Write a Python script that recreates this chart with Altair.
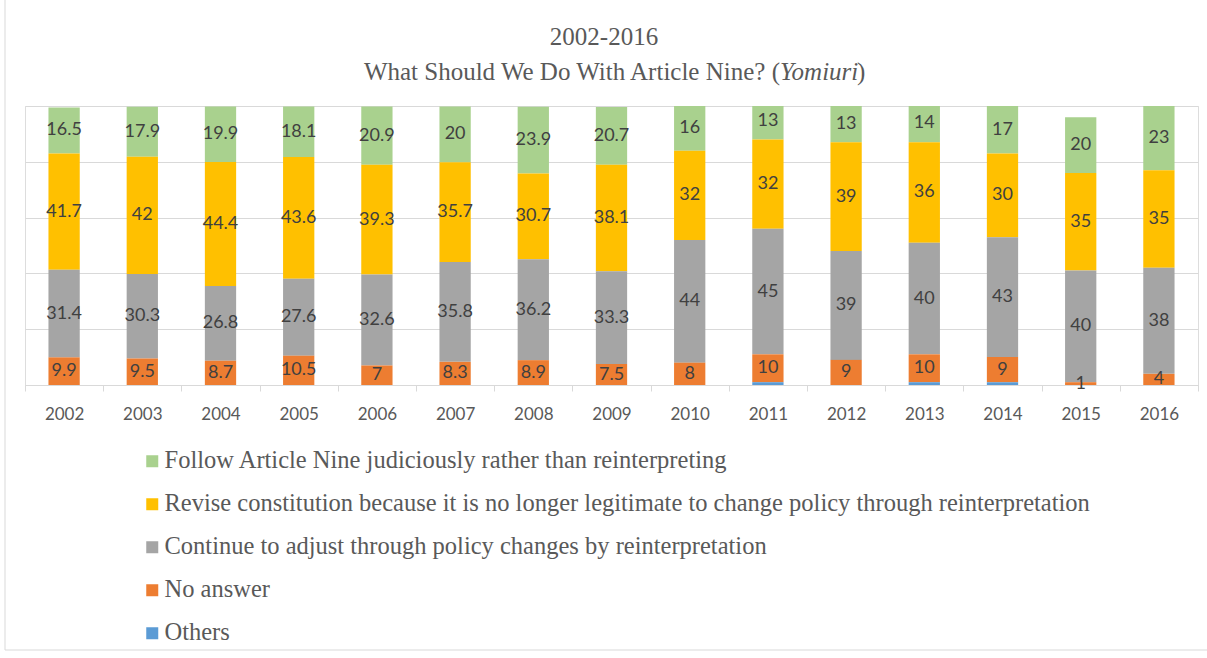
import altair as alt
import pandas as pd

years = [str(y) for y in range(2002, 2017)]
follow   = [16.5, 17.9, 19.9, 18.1, 20.9, 20, 23.9, 20.7, 16, 13, 13, 14, 17, 20, 23]
revise   = [41.7, 42, 44.4, 43.6, 39.3, 35.7, 30.7, 38.1, 32, 32, 39, 36, 30, 35, 35]
cont     = [31.4, 30.3, 26.8, 27.6, 32.6, 35.8, 36.2, 33.3, 44, 45, 39, 40, 43, 40, 38]
noans    = [9.9, 9.5, 8.7, 10.5, 7, 8.3, 8.9, 7.5, 8, 10, 9, 10, 9, 1, 4]
others   = [0, 0, 0, 0, 0, 0, 0, 0, 0, 1, 0, 1, 1, 0, 0]

series_names = [
    "Follow Article Nine judiciously rather than reinterpreting",
    "Revise constitution because it is no longer legitimate to change policy through reinterpretation",
    "Continue to adjust through policy changes by reinterpretation",
    "No answer",
    "Others",
]
series_values = [follow, revise, cont, noans, others]
colors = ["#a9d18e", "#ffc000", "#a5a5a5", "#ed7d31", "#5b9bd5"]

rows = []
for si, (name, vals) in enumerate(zip(series_names, series_values)):
    for yr, v in zip(years, vals):
        rows.append({"year": yr, "series": name, "value": v, "order": 4 - si,
                     "label": str(v)})
df = pd.DataFrame(rows)

W, H = 1173, 279
PL, PT = 25, 106

xenc = alt.X("year:N", sort=years, title=None,
             scale=alt.Scale(paddingInner=0, paddingOuter=0),
             axis=alt.Axis(labelAngle=0, labelFont="Lato", labelFontSize=17,
                           labelColor="#595959", domainColor="#d9d9d9",
                           tickColor="#d9d9d9", tickSize=6, tickBand="extent",
                           labelPadding=15, grid=False))

bars = alt.Chart(df).mark_bar(width=alt.RelativeBandSize(0.4), clip=True).encode(
    x=xenc,
    y=alt.Y("value:Q", stack="zero", title=None,
            scale=alt.Scale(domain=[0, 100], nice=False),
            axis=alt.Axis(values=list(range(0, 101, 10)), labels=False, ticks=False,
                          domain=False, grid=True, gridColor="#d9d9d9")),
    color=alt.Color("series:N", title=None,
                    scale=alt.Scale(domain=series_names, range=colors),
                    legend=alt.Legend(orient="none", legendX=115, legendY=343,
                                      direction="vertical", symbolType="square",
                                      symbolSize=144, symbolStrokeWidth=0,
                                      labelFont="Liberation Serif", labelFontSize=24.5,
                                      labelColor="#595959", labelLimit=2000,
                                      labelOffset=0, rowPadding=18, padding=0)),
    order=alt.Order("order:Q", sort="ascending"),
)

labels = alt.Chart(df).transform_window(
    cum="sum(value)", groupby=["year"], sort=[alt.SortField("order", "ascending")],
    frame=[None, 0]
).transform_calculate(
    mid="datum.cum - datum.value / 2"
).transform_filter(
    alt.datum.series != "Others"
).mark_text(font="Lato", fontSize=18, color="#404040", baseline="middle").encode(
    x=alt.X("year:N", sort=years),
    y=alt.Y("mid:Q"),
    text="label:N",
)

tdata = alt.Data(values=[{"a": 1}])
cx = 604 - PL
t1 = alt.Chart(tdata).mark_text(text="2002-2016", font="Liberation Serif", fontSize=25,
                                color="#595959", align="center", baseline="alphabetic").encode(
    x=alt.value(cx), y=alt.value(45 - PT))
split = 780 - PL
t2a = alt.Chart(tdata).mark_text(text="What Should We Do With Article Nine? (",
                                 font="Liberation Serif", fontSize=25, color="#595959",
                                 align="right", baseline="alphabetic").encode(
    x=alt.value(split), y=alt.value(80 - PT))
t2b = alt.Chart(tdata).mark_text(text="Yomiuri", font="Liberation Serif", fontSize=25,
                                 fontStyle="italic", color="#595959",
                                 align="left", baseline="alphabetic").encode(
    x=alt.value(split), y=alt.value(80 - PT))
t2c = alt.Chart(tdata).mark_text(text=")", font="Liberation Serif", fontSize=25,
                                 color="#595959", align="left", baseline="alphabetic").encode(
    x=alt.value(split + 77), y=alt.value(80 - PT))

border = alt.Chart(tdata).mark_rect(fill=None, stroke="#d9d9d9", strokeWidth=1).encode(
    x=alt.value(5 - PL), x2=alt.value(1230 - PL), y=alt.value(-10 - PT), y2=alt.value(650 - PT))

chart = alt.layer(border, bars, labels, t1, t2a, t2b, t2c).properties(
    width=W, height=H,
    autosize=alt.AutoSizeParams(type="none"),
    padding={"left": PL, "top": PT, "right": 1207 - PL - W, "bottom": 658 - PT - H},
).configure_view(stroke=None).configure(background="white")

chart.save("out.html", embed_options={"renderer": "svg", "actions": False})
